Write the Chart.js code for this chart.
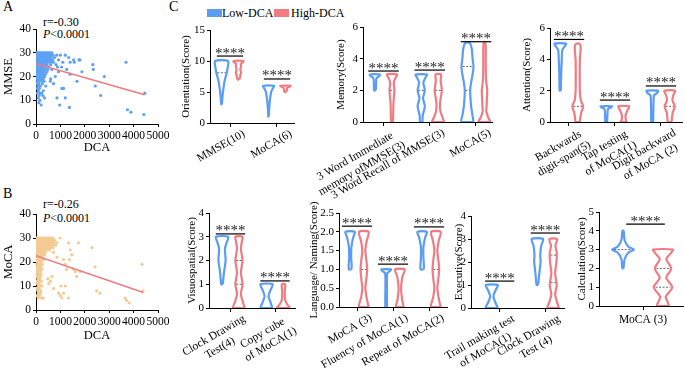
<!DOCTYPE html>
<html><head><meta charset="utf-8">
<script src="https://cdn.jsdelivr.net/npm/chart.js@4/dist/chart.umd.min.js"></script>
<style>
html,body{margin:0;padding:0;background:#fff;}
body{width:685px;height:368px;position:relative;overflow:hidden;font-family:'Liberation Serif','Times New Roman',serif;color:#000;}
canvas{position:absolute;}
.t{position:absolute;line-height:1;white-space:nowrap;}
.box{position:absolute;width:15px;height:8px;}
</style></head><body>
<div class="t" style="left:3px;top:0px;font-size:14px">A</div>
<div class="t" style="left:3px;top:187px;font-size:14px">B</div>
<div class="t" style="left:169px;top:0px;font-size:14px">C</div>
<div class="t" style="left:43px;top:16px;font-size:12px">r=-0.30</div>
<div class="t" style="left:43px;top:28px;font-size:12px"><i>P</i>&lt;0.0001</div>
<div class="t" style="left:43px;top:198px;font-size:12px">r=-0.26</div>
<div class="t" style="left:43px;top:212px;font-size:12px"><i>P</i>&lt;0.0001</div>
<div class="box" style="left:207px;top:9px;background:#5B9CF5"></div>
<div class="t" style="left:222px;top:7px;font-size:12px">Low-DCA</div>
<div class="box" style="left:274px;top:9px;background:#F07B83"></div>
<div class="t" style="left:291px;top:7px;font-size:12px">High-DCA</div>
<script>
// ---------------- DATA ----------------
// Panel A: DCA vs MMSE
const mmsePoints = [
[20,30],[60,30],[110,30],[150,30],[210,30],[260,30],[300,30],[350,30],[420,30],[480,30],[540,30],[600,30],[650,30],
[15,29],[45,29],[90,29],[130,29],[180,29],[230,29],[280,29],[330,29],[390,29],[450,29],[520,29],[580,29],[640,29],[700,29],[850,29],[1000,29],[1200,29],
[25,28],[70,28],[120,28],[160,28],[200,28],[250,28],[310,28],[370,28],[430,28],[500,28],[560,28],[620,28],[760,28],[1340,28],
[10,27],[55,27],[100,27],[140,27],[190,27],[240,27],[290,27],[360,27],[410,27],[470,27],[530,27],[610,27],[680,27],[920,27],[1540,27],[1760,27],[1800,27],
[30,26],[80,26],[125,26],[170,26],[220,26],[270,26],[340,26],[400,26],[460,26],[550,26],[630,26],[720,26],[1100,26],[1400,26],[1570,26],[3690,26],
[40,25],[95,25],[150,25],[210,25],[260,25],[320,25],[380,25],[450,25],[600,25],[820,25],[2330,25],
[20,24],[75,24],[135,24],[190,24],[250,24],[310,24],[420,24],[520,24],[880,24],[1050,24],
[50,23],[110,23],[170,23],[230,23],[300,23],[370,23],[480,23],[650,23],[1260,23],[2350,23],
[35,22],[90,22],[160,22],[240,22],[330,22],[450,22],[920,22],[1880,22],
[60,21],[130,21],[200,21],[280,21],[390,21],[1400,21],
[25,20],[100,20],[180,20],[260,20],[350,20],[790,20],[2800,20],
[45,19],[120,19],[210,19],[300,19],[600,19],
[70,18],[150,18],[230,18],[330,18],[590,18],[1680,18],
[30,17],[110,17],[260,17],[720,17],
[80,16],[180,16],[400,16],[2430,16],
[50,15],[140,15],[1060,15],[1130,15],
[100,14],[300,14],
[60,13],[170,13],[230,13],[4460,13],
[130,12],[280,12],[2650,12],
[90,11],[350,11],[860,11],[1200,11],
[160,10],[120,9],[210,8],[970,8],[1370,7],[3750,6],[3890,5],[4420,4]
];
const mmseFit = [[0,25.4],[4450,12.3]];
// Panel B: DCA vs MoCA
const mocaPoints = [
[20,30],[70,30],[120,30],[170,30],[230,30],[290,30],[350,30],[420,30],[480,30],[550,30],[620,30],[700,30],[990,30],
[15,29],[50,29],[95,29],[140,29],[190,29],[250,29],[310,29],[380,29],[440,29],[510,29],[580,29],[650,29],[760,29],
[30,28],[80,28],[130,28],[180,28],[240,28],[300,28],[360,28],[430,28],[500,28],[570,28],[640,28],[720,28],[850,28],[1330,28],[1740,28],
[10,27],[60,27],[110,27],[160,27],[210,27],[270,27],[330,27],[400,27],[470,27],[540,27],[610,27],[680,27],[800,27],
[40,26],[90,26],[150,26],[200,26],[260,26],[320,26],[390,26],[460,26],[530,26],[600,26],[700,26],[2290,26],
[20,25],[75,25],[125,25],[180,25],[240,25],[300,25],[370,25],[450,25],[560,25],[1400,25],
[50,24],[100,24],[160,24],[220,24],[290,24],[380,24],[720,24],
[30,23],[85,23],[140,23],[200,23],[270,23],[350,23],[1470,23],
[60,22],[115,22],[180,22],[250,22],[860,22],
[25,21],[95,21],[160,21],[230,21],[330,21],[1130,21],[1370,21],
[45,20],[130,20],[210,20],
[70,19],[150,19],[260,19],[1200,19],[4350,19],
[35,18],[110,18],[190,18],[2420,18],
[55,17],[140,17],[240,17],[1540,17],[1260,17],
[20,16],[90,16],[170,16],[1610,16],[1810,16],
[65,15],[125,15],[210,15],
[40,14],[100,14],[180,14],[650,14],[1670,14],
[80,13],[150,13],[480,13],
[30,12],[115,12],[220,12],[590,12],
[60,11],[140,11],[520,11],
[95,10],[170,10],[250,10],[1200,10],[1020,10],
[45,9],[130,9],[720,9],
[75,8],[200,8],[4390,8],[2490,8],
[110,7],[180,7],[930,7],[1130,7],[2620,7],
[55,6],[150,6],[1000,6],
[90,5],[230,5],[300,5],[1330,5],[3650,5],[1060,5],
[3710,4],[3820,3]
];
const mocaFit = [[0,22.6],[4400,7.3]];

// Panel C: violin profiles [score, relative half-width]
const orientationCats = ['MMSE(10)', 'MoCA(6)'];
const orientationLow = [
  [[3,0.05],[4,0.12],[5,0.22],[6,0.35],[6.7,0.45],[7.5,0.65],[8.3,0.85],[9,0.95],[10,1.0]],
  [[1,0.03],[2,0.08],[3,0.15],[4,0.25],[5,0.4],[5.5,0.6],[6,0.85]]
];
const orientationHigh = [
  [[7,0.1],[7.4,0.25],[7.8,0.3],[8.1,0.42],[8.5,0.3],[8.9,0.32],[9.2,0.42],[9.55,0.35],[9.8,0.7],[10,0.77]],
  [[5,0.12],[5.3,0.22],[5.65,0.28],[5.85,0.6],[6,0.8]]
];
const orientationMedians = [[0,0,8.1]];
const orientationSig = [[0,10.8],[1,7.1]];

const memoryCats = [['3 Word Immediate  ','memory ofMMSE(3)'], '3 Word Recall of MMSE(3)', 'MoCA(5)'];
const memoryLow = [
  [[2,0.15],[2.4,0.18],[2.75,0.25],[2.9,0.7],[3,0.85]],
  [[0,0.2],[0.4,0.25],[1,0.6],[1.5,0.3],[2,0.6],[2.5,0.35],[2.8,0.7],[3,0.95]],
  [[0,1.0],[0.5,0.8],[1,0.6],[1.5,0.5],[2,0.45],[2.5,0.6],[3,0.85],[3.5,1.0],[4,0.85],[4.5,0.75],[4.8,0.6],[5,0.35]]
];
const memoryHigh = [
  [[0,0.15],[0.5,0.2],[1,0.22],[1.5,0.3],[2,0.42],[2.4,0.3],[2.7,0.45],[3,0.85]],
  [[0,1.0],[0.3,0.7],[0.7,0.35],[1.2,0.3],[2,0.6],[2.6,0.4],[3,0.45]],
  [[0,1.0],[0.3,0.6],[0.7,0.3],[1,0.35],[1.5,0.4],[2,0.45],[2.5,0.3],[3,0.22],[4,0.2],[4.8,0.2],[5,0.1]]
];
const memoryMedians = [[1,0,2],[1,1,2],[2,0,3.5],[2,0,2],[0,1,2]];
const memorySig = [[0,3.22],[1,3.28],[2,5.07]];

const attentionCats = [['Backwards ','digit-span(5)'], ['Tap testing ','of MoCA(1)'], ['Digit backward','of MoCA (2)  ']];
const attentionLow = [
  [[2,0.1],[3,0.15],[4,0.25],[4.6,0.35],[4.8,0.7],[5,0.95]],
  [[0,0.15],[0.5,0.2],[0.85,0.3],[0.92,0.8],[1,0.95]],
  [[0,0.15],[1,0.2],[1.7,0.3],[1.85,0.8],[2,0.95]]
];
const attentionHigh = [
  [[0,0.35],[0.3,0.45],[0.6,0.6],[1,0.9],[1.4,0.5],[2,0.35],[3,0.33],[4,0.36],[4.7,0.5],[4.9,0.45],[5,0.25]],
  [[0,0.5],[0.15,0.35],[0.4,0.3],[0.7,0.55],[1,0.9]],
  [[0,0.3],[0.3,0.4],[0.6,0.5],[1,0.85],[1.4,0.45],[1.7,0.6],[2,0.9]]
];
const attentionMedians = [[0,1,1],[2,1,1]];
const attentionSig = [[0,5.27],[1,1.4],[2,2.3]];

const visuoCats = [['Clock Drawing','Test(4)       '], ['Copy cube  ','of MoCA(1)']];
const visuoLow = [
  [[1,0.12],[1.5,0.3],[2,0.55],[2.5,0.45],[2.75,0.7],[3,0.95]],
  [[0,0.9],[0.25,0.6],[0.5,0.3],[0.75,0.6],[1,0.95]]
];
const visuoHigh = [
  [[0,0.9],[0.3,0.55],[0.6,0.3],[1,0.55],[1.5,0.3],[2,0.55],[2.5,0.3],[2.8,0.45],[3,0.55]],
  [[0,1.0],[0.15,0.6],[0.35,0.25],[0.7,0.2],[1,0.25]]
];
const visuoMedians = [[0,1,2],[0,1,1]];
const visuoSig = [[0,3.12],[1,1.14]];

const languageCats = ['MoCA (3)', 'Fluency of MoCA(1)', 'Repeat of MoCA(2)'];
const languageLow = [
  [[1,0.25],[1.1,0.3],[1.3,0.2],[1.6,0.25],[1.85,0.6],[2,0.95]],
  [[0,0.15],[0.5,0.15],[0.9,0.2],[0.95,0.7],[1,0.95]],
  [[1,0.3],[1.1,0.35],[1.3,0.25],[1.6,0.25],[1.85,0.6],[2,0.95]]
];
const languageHigh = [
  [[0,0.95],[0.25,0.55],[0.5,0.3],[0.75,0.5],[1,0.65],[1.25,0.5],[1.5,0.3],[1.75,0.55],[2,0.95]],
  [[0,0.75],[0.2,0.45],[0.5,0.25],[0.8,0.5],[1,0.95]],
  [[0,0.95],[0.25,0.55],[0.5,0.3],[0.75,0.5],[1,0.65],[1.25,0.5],[1.5,0.3],[1.75,0.55],[2,0.95]]
];
const languageMedians = [[0,1,1],[2,1,1]];
const languageSig = [[0,2.15],[1,1.14],[2,2.13]];

const executiveCats = [['Trail making test','of MoCA(1)    '], ['Clock Drawing','Test (4)      ']];
const executiveLow = [
  [[0,0.95],[0.25,0.55],[0.5,0.25],[0.75,0.55],[1,0.95]],
  [[1,0.12],[1.5,0.3],[2,0.5],[2.3,0.45],[2.7,0.6],[3,0.9]]
];
const executiveHigh = [
  [],
  [[0,0.9],[0.3,0.55],[0.6,0.3],[1,0.55],[1.5,0.3],[2,0.5],[2.4,0.55],[2.7,0.35],[3,0.6]]
];
const executiveMedians = [[1,1,2.3],[1,1,1.1]];
const executiveSig = [[0,1.17],[1,3.26]];

const calcCats = ['MoCA (3)'];
const calcLow = [
  [[2,0.05],[2.5,0.15],[2.85,0.5],[3,1.0],[3.15,0.5],[3.5,0.15],[4,0.05]]
];
const calcHigh = [
  [[0,0.55],[0.25,0.4],[0.5,0.25],[1,0.85],[1.5,0.3],[2,0.75],[2.5,0.3],[2.8,0.7],[3,0.9]]
];
const calcMedians = [[0,0,3],[0,1,2],[0,1,1]];
const calcSig = [[0,4.36]];

// ---------------- STYLE / LAYOUT ----------------
const BLUE = '#5B9CF5', RED = '#F07B83';
Chart.defaults.font.family = "'Liberation Serif','Times New Roman',serif";
Chart.defaults.color = '#000';
Chart.defaults.font.size = 11;
Chart.defaults.animation = false;

function addCanvas(g) {
  const c = document.createElement('canvas');
  const pl = g.pl || 0;
  const left = g.L - g.wy - pl, top = g.T - g.pt;
  const w = g.R + g.pr - left, h = g.B + g.hx - top;
  c.width = w; c.height = h;
  c.style.left = left + 'px'; c.style.top = top + 'px';
  c.style.width = w + 'px'; c.style.height = h + 'px';
  document.body.appendChild(c);
  return c;
}

const starPlugin = {
  id: 'sigStars',
  afterDatasetsDraw(chart, args, opts) {
    if (!opts || !opts.items) return;
    const ctx = chart.ctx, xs = chart.scales.x, ys = chart.scales.y;
    ctx.save();
    ctx.fillStyle = '#222';
    ctx.font = "15px 'Liberation Serif'";
    ctx.textAlign = 'center';
    ctx.textBaseline = 'alphabetic';
    opts.items.forEach(([c, v]) => {
      ctx.fillText('****', xs.getPixelForValue(c + (opts.shift || 0)), ys.getPixelForValue(v) + 1.5);
    });
    ctx.restore();
  }
};

function profileWidth(p, v) {
  for (let i = 0; i < p.length - 1; i++) {
    if (v >= p[i][0] && v <= p[i+1][0]) {
      const t = (v - p[i][0]) / (p[i+1][0] - p[i][0] || 1);
      return p[i][1] + t * (p[i+1][1] - p[i][1]);
    }
  }
  return p.length ? p[p.length-1][1] : 0;
}

function violinPoints(p, center, half) {
  const right = p.map(([v, w]) => ({x: center + w * half, y: v}));
  const left = p.slice().reverse().map(([v, w]) => ({x: center - w * half, y: v}));
  const pts = right.concat(left);
  pts.push({x: pts[0].x, y: pts[0].y});
  return pts;
}

function violinPanel(d, g) {
  const datasets = [];
  const groups = [[d.low, BLUE, -g.off], [d.high, RED, g.off]];
  groups.forEach(([arr, col, off]) => {
    arr.forEach((p, ci) => {
      if (!p.length) return;
      datasets.push({data: violinPoints(p, ci + off, g.half), showLine: true, borderColor: col,
        backgroundColor: '#fff', fill: 'shape', borderWidth: 2.2, pointRadius: 0, tension: 0.25, order: 2});
    });
  });
  d.med.forEach(([ci, gi, v]) => {
    const p = gi ? d.high[ci] : d.low[ci];
    const c = ci + (gi ? g.off : -g.off);
    const w = profileWidth(p, v) * g.half * 0.8;
    datasets.push({data: [{x: c - w, y: v}, {x: c + w, y: v}], showLine: true, borderColor: '#666',
      borderWidth: 1, borderDash: [2, 1.5], pointRadius: 0, order: 1});
  });
  d.sig.forEach(([ci, v]) => {
    const c = ci + (g.sigShift || 0);
    datasets.push({data: [{x: c - g.sigHalf, y: v}, {x: c + g.sigHalf, y: v}], showLine: true,
      borderColor: '#000', borderWidth: 1.2, pointRadius: 0, order: 0});
  });
  const cats = d.cats;
  new Chart(addCanvas(g), {
    type: 'scatter',
    data: {datasets},
    plugins: [starPlugin],
    options: {
      responsive: false, devicePixelRatio: 1, animation: false,
      layout: {padding: {top: g.pt, right: g.pr, left: g.pl || 0, bottom: 0}},
      plugins: {legend: {display: false}, tooltip: {enabled: false}, sigStars: {items: d.sig, shift: g.sigShift || 0}},
      scales: {
        x: {type: 'linear', min: g.xmin, max: g.xmax,
          afterBuildTicks: s => { s.ticks = cats.map((_, i) => ({value: i})); },
          ticks: {autoSkip: false, minRotation: g.rot, maxRotation: g.rot, labelOffset: g.lo || 0, padding: g.tp || 0,
            font: {size: 11.5}, callback: v => cats[Math.round(v)]},
          grid: {drawOnChartArea: false, drawTicks: true, tickLength: 4, color: '#000', lineWidth: 1},
          border: {color: '#000', width: 1},
          afterFit: s => { s.height = g.hx; s.paddingLeft = 0; s.paddingRight = 0; }
        },
        y: {type: 'linear', min: 0, max: d.yMax,
          ticks: {stepSize: d.yStep, padding: 2, font: {size: 11}, callback: v => d.dec ? v.toFixed(1) : String(v)},
          title: {display: true, text: d.yTitle, font: {size: 11}, padding: 0},
          grid: {drawOnChartArea: false, drawTicks: true, tickLength: 3, color: '#000', lineWidth: 1},
          border: {color: '#000', width: 1},
          afterFit: s => { s.width = g.wy; s.paddingTop = 0; s.paddingBottom = 0; }
        }
      }
    }
  });
}

function scatterPanel(pts, fit, col, yTitle, g) {
  new Chart(addCanvas(g), {
    type: 'scatter',
    data: {datasets: [
      {data: fit.map(([x, y]) => ({x, y})), showLine: true, borderColor: '#F07A80', borderWidth: 1.5, pointRadius: 0},
      {data: pts.map(([x, y]) => ({x, y})), backgroundColor: col, borderWidth: 0, pointRadius: 1.6}
    ]},
    options: {
      responsive: false, devicePixelRatio: 1, animation: false,
      layout: {padding: {top: g.pt, right: g.pr, left: 0, bottom: 0}},
      plugins: {legend: {display: false}, tooltip: {enabled: false}},
      scales: {
        x: {type: 'linear', min: 0, max: 5000,
          ticks: {stepSize: 1000, autoSkip: false, maxRotation: 0, minRotation: 0, padding: 2, font: {size: 11.5}, callback: v => String(v)},
          title: {display: true, text: 'DCA', font: {size: 12.5}, padding: 0},
          grid: {drawOnChartArea: false, drawTicks: true, tickLength: 3, color: '#000'},
          border: {color: '#000', width: 1},
          afterFit: s => { s.height = g.hx; s.paddingLeft = 0; s.paddingRight = 0; }
        },
        y: {type: 'linear', min: 0, max: 40,
          ticks: {stepSize: 10, padding: 2, font: {size: 11.5}, callback: v => String(v)},
          title: {display: true, text: yTitle, font: {size: 12.5}, padding: 0},
          grid: {drawOnChartArea: false, drawTicks: true, tickLength: 3, color: '#000'},
          border: {color: '#000', width: 1},
          afterFit: s => { s.width = g.wy; s.paddingTop = 0; s.paddingBottom = 0; }
        }
      }
    }
  });
}

scatterPanel(mmsePoints, mmseFit, '#5EA1F2', 'MMSE', {L:36,T:29,R:158,B:124,wy:35,hx:31,pt:8,pr:14});
scatterPanel(mocaPoints, mocaFit, '#F3CB93', 'MoCA', {L:36,T:214,R:158,B:310,wy:35,hx:33,pt:8,pr:14});

violinPanel({cats: orientationCats, low: orientationLow, high: orientationHigh, med: orientationMedians, sig: orientationSig, yMax: 15, yStep: 5, yTitle: 'Orientation(Score)'},
  {L:210,T:30,R:294,B:123,wy:30,pl:40,hx:50,pt:8,pr:6,xmin:-0.426,xmax:1.362,off:0.18,half:0.138,sigHalf:0.28,rot:30,lo:14});
violinPanel({cats: memoryCats, low: memoryLow, high: memoryHigh, med: memoryMedians, sig: memorySig, yMax: 6, yStep: 2, yTitle: 'Memory(Score)'},
  {L:363,T:27,R:492,B:122,wy:28,pl:60,hx:80,pt:8,pr:4,xmin:-0.443,xmax:2.346,off:0.184,half:0.13,sigHalf:0.33,rot:30,lo:14});
violinPanel({cats: attentionCats, low: attentionLow, high: attentionHigh, med: attentionMedians, sig: attentionSig, yMax: 6, yStep: 2, yTitle: 'Attention(Score)'},
  {L:550,T:28,R:682,B:122,wy:29,pl:40,hx:80,pt:8,pr:3,xmin:-0.413,xmax:2.457,off:0.19,half:0.13,sigHalf:0.33,rot:30,lo:14});
violinPanel({cats: visuoCats, low: visuoLow, high: visuoHigh, med: visuoMedians, sig: visuoSig, yMax: 4, yStep: 1, yTitle: 'Visuospatial(Score)'},
  {L:209,T:213,R:295,B:308,wy:23,pl:40,hx:60,pt:8,pr:6,xmin:-0.483,xmax:1.449,off:0.19,half:0.146,sigHalf:0.33,rot:30,lo:14});
violinPanel({cats: languageCats, low: languageLow, high: languageHigh, med: languageMedians, sig: languageSig, yMax: 2.5, yStep: 0.5, dec: true, yTitle: 'Language/ Naming(Score)'},
  {L:339,T:213,R:447,B:307,wy:31,pl:40,hx:61,pt:16,pr:6,xmin:-0.5,xmax:2.5,off:0.19,half:0.14,sigHalf:0.42,rot:30,lo:14});
violinPanel({cats: executiveCats, low: executiveLow, high: executiveHigh, med: executiveMedians, sig: executiveSig, yMax: 4, yStep: 1, yTitle: 'Executive(Score)'},
  {L:471,T:216,R:564,B:308,wy:18,pl:40,hx:60,pt:8,pr:4,xmin:-0.63,xmax:1.41,off:0.174,half:0.14,sigHalf:0.32,rot:30,lo:14});
violinPanel({cats: calcCats, low: calcLow, high: calcHigh, med: calcMedians, sig: calcSig, yMax: 5, yStep: 1, yTitle: 'Calculation(Score)'},
  {L:599,T:212,R:683,B:306,wy:23,hx:30,pt:8,pr:1,xmin:-0.524,xmax:0.476,off:0.238,half:0.13,sigHalf:0.23,sigShift:0.03,rot:0,lo:0,tp:3});
</script>
</body></html>
